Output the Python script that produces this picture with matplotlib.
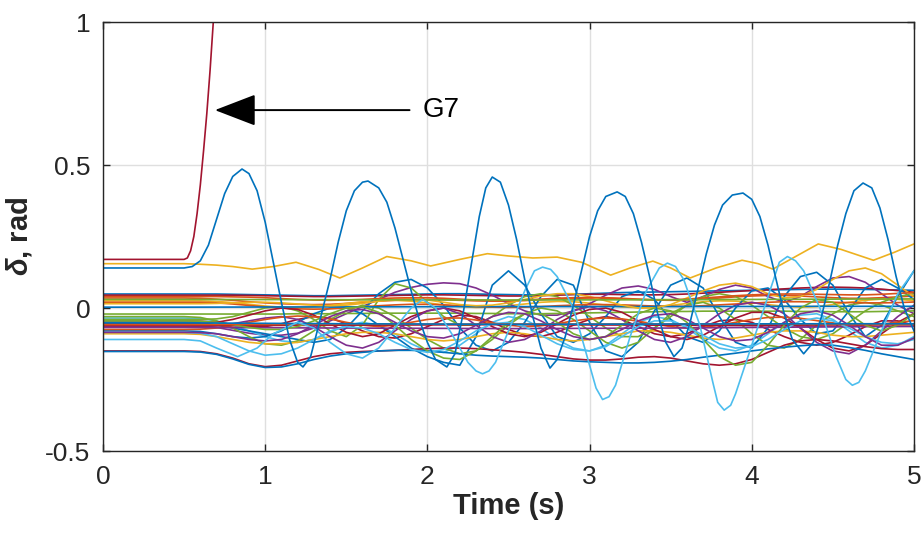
import matplotlib
matplotlib.use("Agg")
import matplotlib.pyplot as plt
from matplotlib import font_manager

# MATLAB default colour order
B = '#0072BD'
O = '#D95319'
Y = '#EDB120'
P = '#7E2F8E'
G = '#77AC30'
C = '#4DBEEE'
R = '#A2142F'

fams = [f.name for f in font_manager.fontManager.ttflist]
main_font = 'Liberation Sans' if 'Liberation Sans' in fams else 'DejaVu Sans'
plt.rcParams['font.family'] = [main_font, 'DejaVu Sans']
plt.rcParams['mathtext.fontset'] = 'custom'
plt.rcParams['mathtext.it'] = main_font + ':italic:bold'
plt.rcParams['mathtext.rm'] = main_font + ':bold'

# ---- data (time in s, delta in rad) ----
t_grid = [0.0, 0.5, 0.6, 0.7, 0.8, 0.9,
          1.0, 1.1, 1.2, 1.3, 1.4, 1.5, 1.6, 1.7, 1.8, 1.9,
          2.0, 2.1, 2.2, 2.3, 2.4, 2.5, 2.6, 2.7, 2.8, 2.9,
          3.0, 3.1, 3.2, 3.3, 3.4, 3.5, 3.6, 3.7, 3.8, 3.9,
          4.0, 4.1, 4.2, 4.3, 4.4, 4.5, 4.6, 4.7, 4.8, 4.9, 5.0]
t_flat = [0.0, 0.5, 1.5, 2.5, 3.5, 4.5, 5.0]

# G7 (loses synchronism)
t_g7 = [0.0, 0.5, 0.52, 0.54, 0.56, 0.58, 0.6, 0.62, 0.64, 0.66, 0.68, 0.7]
d_g7 = [0.17, 0.17, 0.175, 0.2, 0.25, 0.33, 0.43, 0.55, 0.68, 0.83, 1.0, 1.2]

# large blue swing
t_big = [0.0, 0.5, 0.55, 0.6, 0.65, 0.7, 0.75, 0.8, 0.857, 0.9, 0.95, 1.0, 1.05, 1.1, 1.15,
         1.2, 1.233, 1.28, 1.33, 1.4, 1.45, 1.5, 1.55, 1.6, 1.634, 1.7, 1.75, 1.8, 1.85, 1.9,
         1.95, 2.0, 2.05, 2.12, 2.17, 2.22, 2.27, 2.32, 2.36, 2.40, 2.45, 2.5, 2.55, 2.6, 2.65,
         2.7, 2.756, 2.8, 2.85, 2.9, 2.95, 3.0, 3.05, 3.1, 3.17, 3.22, 3.27, 3.32, 3.37, 3.42,
         3.47, 3.52, 3.57, 3.62, 3.67, 3.72, 3.77, 3.82, 3.88, 3.946, 4.0, 4.05, 4.1, 4.15,
         4.2, 4.25, 4.32, 4.38, 4.43, 4.48, 4.53, 4.58, 4.63, 4.686, 4.74, 4.79, 4.84, 4.89,
         4.94, 5.0]
d_big = [0.14, 0.14, 0.145, 0.165, 0.22, 0.31, 0.40, 0.46, 0.486, 0.47, 0.41, 0.30, 0.16, 0.02,
         -0.11, -0.19, -0.206, -0.17, -0.06, 0.10, 0.23, 0.34, 0.41, 0.44, 0.444, 0.42, 0.37,
         0.28, 0.17, 0.06, -0.04, -0.12, -0.18, -0.206, -0.16, -0.02, 0.15, 0.32, 0.42, 0.458,
         0.44, 0.36, 0.24, 0.10, -0.03, -0.14, -0.21, -0.18, -0.10, 0.01, 0.13, 0.25, 0.34,
         0.39, 0.406, 0.39, 0.33, 0.23, 0.11, -0.02, -0.12, -0.17, -0.14, -0.05, 0.07, 0.19,
         0.29, 0.36, 0.395, 0.402, 0.38, 0.32, 0.22, 0.10, -0.02, -0.11, -0.16, -0.12, -0.03,
         0.09, 0.22, 0.33, 0.41, 0.437, 0.42, 0.35, 0.24, 0.11, 0.0, -0.08]

# light blue, large swing roughly in anti-phase
t_lb = [0.0, 0.5, 0.6, 0.7, 0.83, 0.95, 1.05, 1.2, 1.3, 1.4, 1.5, 1.6, 1.7, 1.8, 1.9, 1.97,
        2.05, 2.15, 2.25, 2.3, 2.34, 2.38, 2.42, 2.5, 2.6, 2.66, 2.71, 2.76, 2.8, 2.9, 3.0,
        3.04, 3.08, 3.12, 3.16, 3.25, 3.35, 3.43, 3.48, 3.53, 3.58, 3.68, 3.76, 3.79, 3.83,
        3.87, 3.9, 4.0, 4.1, 4.17, 4.22, 4.27, 4.32, 4.42, 4.52, 4.58, 4.62, 4.66, 4.7, 4.8,
        4.9, 5.0]
d_lb = [-0.11, -0.11, -0.115, -0.14, -0.17, -0.14, -0.09, -0.05, -0.07, -0.12, -0.16, -0.175,
        -0.14, -0.07, 0.0, 0.03, 0.0, -0.09, -0.19, -0.22, -0.23, -0.22, -0.19, -0.08, 0.06,
        0.13, 0.143, 0.135, 0.11, 0.0, -0.2, -0.28, -0.32, -0.31, -0.27, -0.1, 0.06, 0.14,
        0.157, 0.145, 0.10, -0.06, -0.26, -0.33, -0.357, -0.34, -0.30, -0.13, 0.04, 0.16, 0.18,
        0.165, 0.13, 0.0, -0.17, -0.25, -0.27, -0.26, -0.22, -0.08, 0.05, 0.13]

# upper yellow
t_yu = [0.0, 0.5, 0.6, 0.7, 0.8, 0.92, 1.05, 1.19, 1.33, 1.46, 1.6, 1.75, 1.9, 2.02, 2.2, 2.37,
        2.5, 2.65, 2.8, 2.95, 3.13, 3.25, 3.39, 3.5, 3.62, 3.78, 3.94, 4.04, 4.13, 4.27, 4.41,
        4.55, 4.75, 4.88, 5.0]
d_yu = [0.155, 0.155, 0.153, 0.15, 0.145, 0.136, 0.145, 0.16, 0.135, 0.105, 0.14, 0.18, 0.165,
        0.147, 0.17, 0.19, 0.182, 0.175, 0.178, 0.16, 0.115, 0.14, 0.164, 0.14, 0.105, 0.14,
        0.167, 0.155, 0.136, 0.18, 0.224, 0.205, 0.167, 0.195, 0.224]

# cluster of other machines, on t_grid
d_01 = [.049, .049, .049, .049, .048, .047,
        .046, .045, .044, .043, .043, .044, .045, .046, .047, .048,
        .049, .05, .05, .049, .048, .047, .046, .046, .047, .048,
        .05, .052, .054, .055, .056, .057, .058, .059, .06, .061,
        .062, .063, .064, .065, .066, .066, .066, .065, .064, .063, .062]
d_02 = [.045, .045, .045, .045, .045, .044,
        .043, .042, .041, .04, .04, .041, .042, .043, .044, .045,
        .046, .046, .045, .044, .043, .042, .042, .043, .045, .047,
        .048, .048, .047, .046, .046, .047, .049, .052, .055, .058,
        .061, .064, .067, .07, .072, .073, .072, .07, .066, .061, .055]
d_03 = [.035, .035, .034, .031, .027, .022,
        .018, .015, .013, .012, .013, .016, .02, .024, .027, .029,
        .03, .029, .027, .025, .024, .024, .026, .029, .032, .034,
        .035, .034, .032, .03, .028, .027, .028, .031, .035, .039,
        .042, .044, .044, .042, .039, .036, .034, .034, .036, .039, .042]
d_04 = [.025, .025, .025, .023, .019, .013,
        .007, .003, .002, .004, .009, .016, .022, .026, .027, .024,
        .018, .011, .005, .002, .003, .008, .014, .02, .023, .022,
        .017, .01, .004, .001, .003, .009, .016, .022, .025, .024,
        .019, .012, .006, .003, .005, .012, .02, .027, .031, .03, .026]
d_05 = [-.06, -.06, -.062, -.068, -.078, -.088,
        -.095, -.095, -.088, -.07, -.045, -.02, .005, .03, .055, .072,
        .083, .088, .085, .07, .045, .015, -.01, -.025, -.025, -.01,
        .015, .045, .07, .077, .065, .04, .02, .04, .065, .08,
        .07, .04, .02, .04, .075, .105, .11, .09, .05, .01, -.02]
d_06 = [-.021, -.021, -.021, -.021, -.021, -.021,
        -.021, -.021, -.02, -.02, -.02, -.019, -.019, -.018, -.018, -.018,
        -.018, -.018, -.018, -.019, -.019, -.02, -.02, -.02, -.019, -.018,
        -.017, -.016, -.015, -.014, -.013, -.012, -.012, -.011, -.011, -.011,
        -.011, -.011, -.011, -.012, -.012, -.013, -.013, -.013, -.012, -.011, -.01]
d_07 = [-.035, -.035, -.037, -.045, -.06, -.08,
        -.1, -.115, -.12, -.11, -.085, -.06, -.05, -.06, -.09, -.125,
        -.15, -.155, -.13, -.09, -.05, -.03, -.04, -.07, -.11, -.14,
        -.15, -.13, -.09, -.05, -.03, -.04, -.07, -.11, -.14, -.15,
        -.13, -.09, -.05, -.025, -.02, -.04, -.08, -.12, -.14, -.13, -.1]
d_08 = [-.045, -.045, -.046, -.05, -.058, -.065,
        -.065, -.055, -.04, -.03, -.035, -.055, -.08, -.1, -.105, -.09,
        -.065, -.04, -.025, -.03, -.05, -.075, -.095, -.1, -.085, -.06,
        -.04, -.03, -.04, -.065, -.09, -.1, -.09, -.065, -.045, -.04,
        -.05, -.075, -.1, -.12, -.13, -.12, -.095, -.065, -.045, -.045, -.06]
d_09 = [-.05, -.05, -.052, -.06, -.07, -.08,
        -.09, -.1, -.11, -.12, -.11, -.07, -.01, .05, .09, .1,
        .07, .01, -.07, -.13, -.15, -.12, -.05, .04, .1, .08,
        -.05, -.15, -.17, -.12, -.01, .08, .105, .07, -.03, -.12,
        -.14, -.07, .04, .11, .125, .08, -.02, -.1, -.06, .04, .13]
d_10 = [-.08, -.08, -.082, -.09, -.1, -.105,
        -.1, -.08, -.05, -.02, .0, .0, -.02, -.06, -.1, -.14,
        -.17, -.19, -.2, -.1, .08, .13, .08, -.02, -.1, -.12,
        -.09, -.03, .04, .06, .03, -.04, -.1, -.12, -.08, .0,
        .06, .07, .03, -.04, -.09, -.08, -.01, .07, .1, .07, .03]
d_11 = [-.03, -.03, -.033, -.045, -.07, -.1,
        -.125, -.13, -.115, -.08, -.04, -.01, .01, .0, -.03, -.07,
        -.11, -.14, -.16, -.15, -.11, -.06, -.02, .0, -.01, -.04,
        -.08, -.12, -.14, -.12, -.07, -.02, .01, .02, .0, -.04,
        -.09, -.13, -.14, -.11, -.06, -.02, .01, .02, .01, -.01, -.03]
d_12 = [-.04, -.04, -.04, -.038, -.03, -.015,
        .0, .005, -.01, -.04, -.08, -.1, -.06, .03, .085, .07,
        .02, -.03, -.06, -.06, -.03, .01, .04, .05, .04, .01,
        -.03, -.07, -.1, -.1, -.07, -.03, .01, .04, .05, .04,
        .01, -.03, -.07, -.1, -.11, -.09, -.05, -.01, .02, .04, .05]
d_13 = [.02, .02, .02, .018, .014, .009,
        .004, .0, -.003, -.004, -.003, .0, .004, .008, .011, .013,
        .013, .011, .008, .005, .003, .002, .003, .005, .008, .01,
        .012, .012, .011, .009, .007, .006, .006, .008, .011, .014,
        .017, .02, .022, .022, .021, .02, .019, .018, .018, .019, .021]
d_14 = [-.09, -.09, -.092, -.1, -.11, -.12,
        -.125, -.125, -.12, -.11, -.1, -.09, -.085, -.085, -.09, -.1,
        -.11, -.115, -.11, -.1, -.09, -.085, -.09, -.1, -.11, -.115,
        -.11, -.1, -.09, -.08, -.08, -.085, -.095, -.105, -.11, -.105,
        -.095, -.085, -.08, -.08, -.085, -.095, -.1, -.1, -.095, -.09, -.085]
d_15 = [-.055, -.055, -.055, -.05, -.04, -.025,
        -.01, .0, -.005, -.025, -.055, -.085, -.1, -.09, -.06, -.03,
        -.01, .0, -.01, -.035, -.065, -.09, -.1, -.085, -.055, -.025,
        -.005, .0, -.015, -.045, -.075, -.1, -.11, -.095, -.065, -.035,
        -.015, -.015, -.035, -.07, -.11, -.14, -.15, -.13, -.09, -.05, -.02]
d_16 = [-.065, -.065, -.065, -.062, -.055, -.045,
        -.035, -.03, -.04, -.065, -.1, -.13, -.14, -.12, -.08, -.04,
        -.01, .0, -.02, -.06, -.1, -.12, -.11, -.08, -.04, -.01,
        .005, -.01, -.04, -.08, -.11, -.12, -.1, -.06, -.02, .01,
        .02, .01, -.02, -.07, -.12, -.15, -.16, -.13, -.08, -.03, .01]
d_17 = [-.075, -.075, -.074, -.07, -.062, -.05,
        -.04, -.032, -.028, -.03, -.038, -.05, -.06, -.065, -.06, -.05,
        -.04, -.035, -.035, -.042, -.052, -.06, -.065, -.062, -.055, -.045,
        -.038, -.035, -.038, -.046, -.056, -.065, -.07, -.068, -.06, -.05,
        -.04, -.033, -.032, -.036, -.044, -.052, -.058, -.06, -.056, -.05, -.044]
d_22 = [-.15, -.15, -.152, -.16, -.175, -.195,
        -.205, -.2, -.185, -.17, -.16, -.155, -.152, -.15, -.148, -.145,
        -.142, -.14, -.14, -.142, -.146, -.15, -.155, -.162, -.17, -.178,
        -.182, -.182, -.178, -.172, -.17, -.175, -.185, -.195, -.2, -.195,
        -.18, -.155, -.13, -.115, -.11, -.115, -.125, -.135, -.142, -.145, -.145]
d_23 = [-.152, -.152, -.154, -.162, -.178, -.197,
        -.208, -.206, -.195, -.18, -.168, -.16, -.155, -.15, -.148, -.148,
        -.15, -.155, -.16, -.165, -.168, -.17, -.172, -.175, -.18, -.185,
        -.188, -.19, -.192, -.192, -.19, -.186, -.18, -.172, -.165, -.158,
        -.15, -.143, -.137, -.132, -.128, -.13, -.138, -.148, -.16, -.17, -.18]
d_24 = [.015, .015, .015, .016, .018, .02,
        .02, .018, .014, .01, .008, .01, .016, .024, .03, .032,
        .028, .02, .012, .008, .01, .018, .03, .042, .05, .05,
        .04, .025, .01, .0, .0, .012, .035, .06, .08, .087,
        .075, .05, .035, .04, .065, .1, .13, .14, .12, .08, .04]
d_25 = [-.045, -.045, -.046, -.05, -.058, -.068,
        -.075, -.075, -.065, -.045, -.02, .0, .005, -.015, -.06, -.11,
        -.15, -.175, -.18, -.15, -.1, -.05, -.02, -.02, -.05, -.09,
        -.11, -.1, -.06, -.02, .0, -.01, -.05, -.11, -.17, -.2,
        -.19, -.13, -.06, .0, .03, .02, -.02, -.06, -.08, -.06, -.02]
d_26 = [-.085, -.085, -.088, -.1, -.125, -.15,
        -.165, -.16, -.14, -.11, -.08, -.065, -.07, -.09, -.12, -.145,
        -.155, -.145, -.115, -.08, -.055, -.05, -.065, -.095, -.125, -.145,
        -.15, -.135, -.1, -.065, -.045, -.045, -.065, -.095, -.125, -.14,
        -.135, -.11, -.075, -.045, -.035, -.045, -.07, -.1, -.12, -.125, -.11]
d_27 = [-.085, -.085, -.086, -.09, -.1, -.11,
        -.115, -.11, -.09, -.06, -.03, -.01, -.005, -.02, -.05, -.08,
        -.1, -.105, -.09, -.06, -.03, -.015, -.02, -.045, -.075, -.1,
        -.11, -.1, -.075, -.045, -.025, -.02, -.04, -.07, -.1, -.115,
        -.11, -.085, -.05, -.02, -.01, -.025, -.06, -.1, -.13, -.13, -.105]
d_28 = [.04, .04, .04, .04, .039, .038,
        .036, .033, .03, .028, .027, .028, .03, .033, .035, .036,
        .036, .034, .031, .028, .026, .026, .028, .031, .034, .036,
        .037, .036, .034, .031, .029, .029, .031, .035, .039, .043,
        .046, .048, .049, .049, .048, .047, .046, .046, .048, .051, .054]

# nearly flat machines, on t_flat
d_18 = [.003, .003, .004, .005, .005, .006, .006]
d_19 = [-.062, -.062, -.06, -.058, -.06, -.063, -.064]
d_20 = [-.068, -.068, -.07, -.072, -.07, -.066, -.064]
d_29 = [-.058, -.058, -.057, -.056, -.056, -.057, -.058]
d_30 = [.03, .03, .029, .028, .029, .031, .032]
d_31 = [-.052, -.052, -.055, -.057, -.056, -.055, -.055]

curves = [
    (t_grid, d_01, B), (t_grid, d_02, R), (t_grid, d_03, O), (t_grid, d_04, Y),
    (t_grid, d_05, P), (t_grid, d_06, G), (t_grid, d_07, C), (t_grid, d_08, R),
    (t_grid, d_09, B), (t_grid, d_10, B), (t_grid, d_11, G), (t_grid, d_12, G),
    (t_grid, d_13, O), (t_grid, d_14, Y), (t_grid, d_15, R), (t_grid, d_16, P),
    (t_grid, d_17, O), (t_flat, d_18, B), (t_flat, d_19, R), (t_flat, d_20, P),
    (t_grid, d_22, R), (t_grid, d_23, B), (t_grid, d_24, Y), (t_grid, d_25, G),
    (t_grid, d_26, C), (t_grid, d_27, P), (t_grid, d_28, O), (t_flat, d_29, O),
    (t_flat, d_30, G), (t_flat, d_31, B),
    (t_yu, d_yu, Y), (t_lb, d_lb, C), (t_big, d_big, B), (t_g7, d_g7, R),
]

fig = plt.figure(figsize=(9.23, 5.33), dpi=100)
ax = fig.add_axes([0.1116, 0.1538, 0.8786, 0.8049])

for tt, dd, col in curves:
    ax.plot(tt, dd, color=col, linewidth=1.2, solid_joinstyle='round')

ax.set_xlim(0, 5)
ax.set_ylim(-0.5, 1)
ax.set_xticks([0, 1, 2, 3, 4, 5])
ax.set_yticks([-0.5, 0, 0.5, 1])
ax.set_yticklabels(['-0.5', '0', '0.5', '1'])
ax.grid(True, color='#dfdfdf', linewidth=1.0)
ax.set_axisbelow(True)
for s in ax.spines.values():
    s.set_color('#262626')
    s.set_linewidth(1.0)
ax.tick_params(direction='in', length=5, width=1.0, colors='#262626',
               labelsize=19, top=True, right=True, pad=9)
ax.tick_params(axis='x', pad=10)

ax.set_xlabel('Time (s)', fontsize=21, fontweight='bold', color='#262626', labelpad=2)
ax.set_ylabel(r'$\delta$, rad', fontsize=21, fontweight='bold', color='#262626', labelpad=8)

ax.annotate('', xy=(0.69, 0.692), xytext=(1.89, 0.692),
            arrowprops=dict(arrowstyle='-|>,head_length=1.3,head_width=0.5',
                            color='black', lw=1.4, mutation_scale=20,
                            shrinkA=0, shrinkB=0))
ax.text(1.97, 0.692, 'G7', fontsize=20, va='center', ha='left', color='black')

fig.savefig('out.png', dpi=100)
